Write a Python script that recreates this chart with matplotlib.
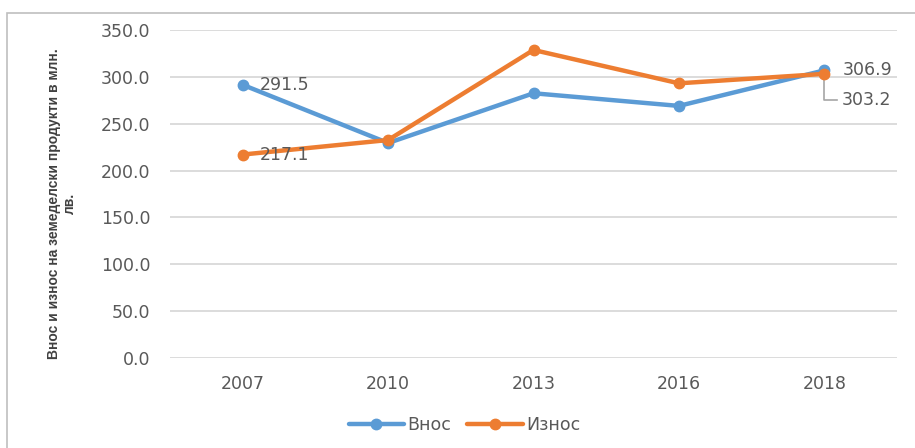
import matplotlib
matplotlib.use("Agg")
import matplotlib.pyplot as plt
from matplotlib.patches import Rectangle

years = ["2007", "2010", "2013", "2016", "2018"]
vnos = [291.5, 229.4, 282.5, 269.0, 306.9]
iznos = [217.1, 232.6, 328.7, 293.1, 303.2]
series_names = ["Внос", "Износ"]
ylabel = "Внос и износ на земеделски продукти в млн.\nлв."
yticks = [0, 50, 100, 150, 200, 250, 300, 350]

blue = "#5B9BD5"
orange = "#ED7D31"
txt = "#595959"

plt.rcParams['font.family'] = ['DejaVu Sans']

fig = plt.figure(figsize=(9.15, 4.48), dpi=100)
fig.patches.append(Rectangle((7/915, -0.1), 1.1, 1 - 13/448 + 0.1, transform=fig.transFigure,
                             fill=False, edgecolor="#BFBFBF", lw=1.2))
ax = fig.add_axes([170/915, 1 - 358/448, 727/915, 328/448])

x = list(range(len(years)))
ax.plot(x, vnos, color=blue, lw=3.2, marker="o", ms=7.5, label=series_names[0], solid_capstyle="round")
ax.plot(x, iznos, color=orange, lw=3.2, marker="o", ms=7.5, label=series_names[1], solid_capstyle="round")

ax.set_xlim(-0.5, len(years) - 0.5)
ax.set_ylim(0, 350)
ax.set_yticks(yticks)
ax.set_yticklabels([f"{v:.1f}" for v in yticks], fontsize=12.5, color=txt)
ax.set_xticks(x)
ax.set_xticklabels(years, fontsize=12.5, color=txt)
ax.tick_params(axis="both", length=0, pad=14)
ax.tick_params(axis="x", pad=12)
ax.grid(axis="y", color="#D9D9D9", lw=1.3)
ax.set_axisbelow(True)
for s in ax.spines.values():
    s.set_visible(False)

ax.set_ylabel(ylabel, fontsize=10, fontweight="bold", color="#404040",
              linespacing=1.15, family=["Liberation Sans", "DejaVu Sans"])
ax.yaxis.set_label_coords(-0.128, 0.47)

# data labels
ax.annotate(f"{vnos[0]:.1f}", (x[0], vnos[0]), xytext=(12, 0), textcoords="offset points",
            va="center", ha="left", fontsize=12.5, color=txt)
ax.annotate(f"{iznos[0]:.1f}", (x[0], iznos[0]), xytext=(12, 0), textcoords="offset points",
            va="center", ha="left", fontsize=12.5, color=txt)
ax.annotate(f"{vnos[4]:.1f}", (x[4], vnos[4]), xytext=(13, 0), textcoords="offset points",
            va="center", ha="left", fontsize=12.5, color=txt)
label_y = 275.0
ax.text(x[4] + 0.12, label_y, f"{iznos[4]:.1f}", va="center", ha="left", fontsize=12.5, color=txt)
ax.plot([x[4], x[4], x[4] + 0.09], [iznos[4] - 4, label_y, label_y], color="#A6A6A6", lw=1.2, zorder=1)

leg = ax.legend(loc="upper center", bbox_to_anchor=(0.405, -0.13), ncol=2, frameon=False,
                fontsize=12.5, handlelength=3.2, columnspacing=0.9, handletextpad=0.2)
for t in leg.get_texts():
    t.set_color(txt)

fig.savefig("out.png", dpi=100)
